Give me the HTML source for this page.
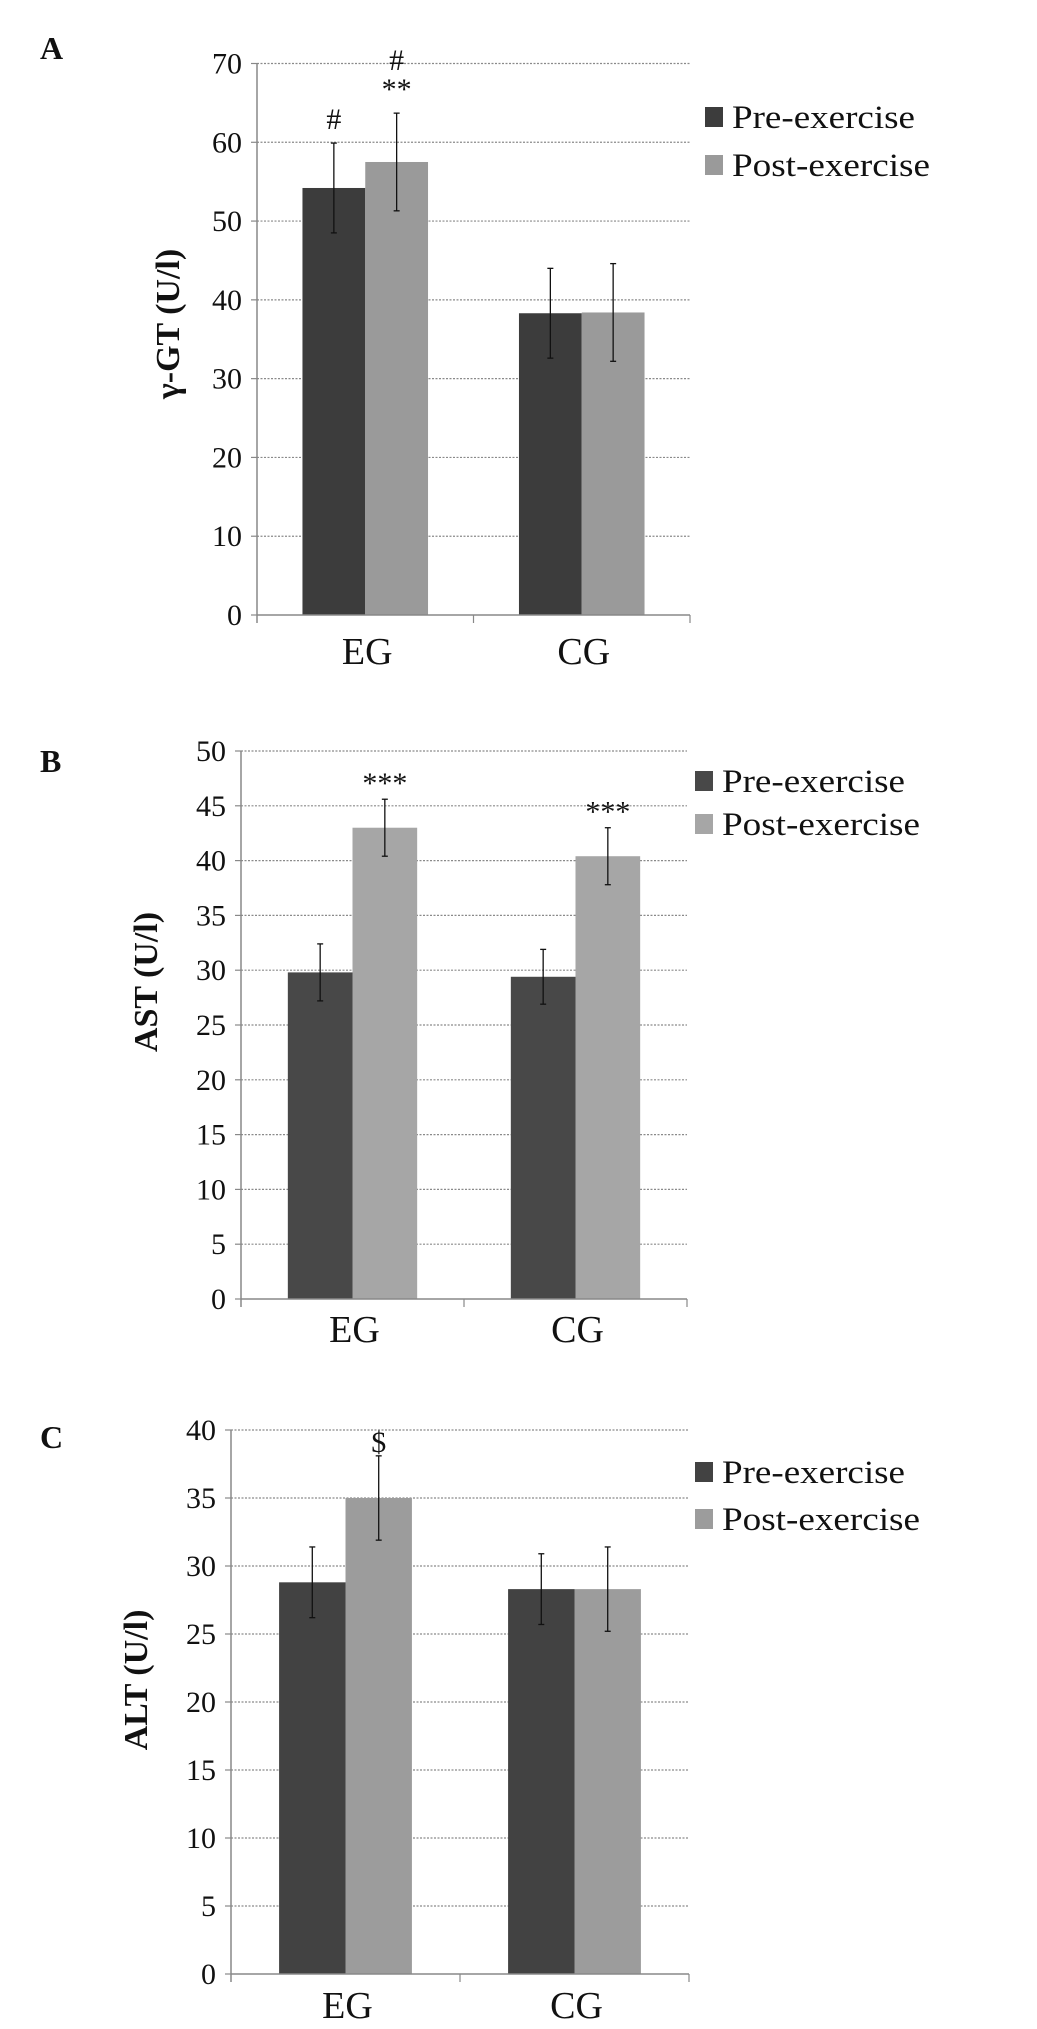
<!DOCTYPE html>
<html><head><meta charset="utf-8">
<style>
html,body{margin:0;padding:0;background:#fff;}
svg{display:block;}
text{font-family:"Liberation Serif",serif;fill:#111;}
</style></head>
<body>
<svg id="fig" width="1037" height="2029" viewBox="0 0 1037 2029" xmlns="http://www.w3.org/2000/svg"></svg>
<script>
const categories = ["EG", "CG"];
const seriesNames = ["Pre-exercise", "Post-exercise"];
// Panel A: gamma-GT
const ggtPre = [54.2, 38.3];
const ggtPost = [57.5, 38.4];
const ggtPreErr = [5.7, 5.7];
const ggtPostErr = [6.2, 6.2];
const ggtTicks = [0, 10, 20, 30, 40, 50, 60, 70];
// Panel B: AST
const astPre = [29.8, 29.4];
const astPost = [43.0, 40.4];
const astPreErr = [2.6, 2.5];
const astPostErr = [2.6, 2.6];
const astTicks = [0, 5, 10, 15, 20, 25, 30, 35, 40, 45, 50];
// Panel C: ALT
const altPre = [28.8, 28.3];
const altPost = [35.0, 28.3];
const altPreErr = [2.6, 2.6];
const altPostErr = [3.1, 3.1];
const altTicks = [0, 5, 10, 15, 20, 25, 30, 35, 40];

const NS = "http://www.w3.org/2000/svg";
const svg = document.getElementById("fig");
function mk(tag, attrs, parent) {
  const e = document.createElementNS(NS, tag);
  for (const k in attrs) e.setAttribute(k, attrs[k]);
  (parent || svg).appendChild(e);
  return e;
}

const panels = [
  {key:"a", letter:"A", title:"γ-GT (U/l)", pre:ggtPre, post:ggtPost, preErr:ggtPreErr, postErr:ggtPostErr, ticks:ggtTicks,
   ax:257, right:690, top:63.5, bottom:615, catY:664, letterY:59, titleX:167, titleY:324,
   legX:705, legY1:128, legY2:176, darkC:"#3c3c3c", lightC:"#9a9a9a",
   ann:[{t:"#", s:0, c:0, dy:-14}, {t:"**", s:1, c:0, dy:-14}, {t:"#", s:1, c:0, dy:-43}]},
  {key:"b", letter:"B", title:"AST (U/l)", pre:astPre, post:astPost, preErr:astPreErr, postErr:astPostErr, ticks:astTicks,
   ax:241, right:687, top:751, bottom:1299, catY:1342, letterY:772, titleX:145, titleY:982,
   legX:695, legY1:792, legY2:835, darkC:"#484848", lightC:"#a6a6a6",
   ann:[{t:"***", s:1, c:0, dy:-6}, {t:"***", s:1, c:1, dy:-6}]},
  {key:"c", letter:"C", title:"ALT (U/l)", pre:altPre, post:altPost, preErr:altPreErr, postErr:altPostErr, ticks:altTicks,
   ax:231, right:689, top:1430, bottom:1974, catY:2018, letterY:1448, titleX:135, titleY:1680,
   legX:695, legY1:1483, legY2:1530, darkC:"#424242", lightC:"#9c9c9c",
   ann:[{t:"$", s:1, c:0, dy:-4}]}
];

panels.forEach(p => {
  const g = mk("g", {});
  
  
  const maxV = p.ticks[p.ticks.length - 1];
  const y = v => p.bottom - (v / maxV) * (p.bottom - p.top);
  const catW = (p.right - p.ax) / categories.length;
  const barW = catW * 0.29;
  const xBar = (c, s) => p.ax + catW * c + catW * 0.21 + s * barW;

  // gridlines + tick labels
  p.ticks.forEach(t => {
    if (t > 0) {
      const gl = mk("line", {x1:p.ax, x2:p.right, y1:y(t), y2:y(t), stroke:"#8a8a8a", "stroke-width":1.2, "stroke-dasharray":"2,1.5"}, g);
      
      
    }
    const tk = mk("line", {x1:p.ax - 6, x2:p.ax, y1:y(t), y2:y(t), stroke:"#888", "stroke-width":1.2}, g);
    
    
    const tl = mk("text", {x:p.ax - 15, y:y(t) + 10, "text-anchor":"end", "font-size":30}, g);
    tl.textContent = t;
    
    
  });

  // bars
  const vals = [p.pre, p.post], errs = [p.preErr, p.postErr], cols = [p.darkC, p.lightC];
  categories.forEach((cat, c) => {
    for (let s = 0; s < 2; s++) {
      const v = vals[s][c];
      const r = mk("rect", {x:xBar(c, s), y:y(v), width:barW, height:y(0) - y(v), fill:cols[s]}, g);
      
      
    }
  });
  // error bars
  categories.forEach((cat, c) => {
    for (let s = 0; s < 2; s++) {
      const v = vals[s][c], e = errs[s][c];
      const cx = xBar(c, s) + barW / 2;
      const eg = mk("g", {stroke:"#111", "stroke-width":1.3}, g);
      
      
      mk("line", {x1:cx, x2:cx, y1:y(v + e), y2:y(v - e)}, eg);
      mk("line", {x1:cx - 3, x2:cx + 3, y1:y(v + e), y2:y(v + e)}, eg);
      mk("line", {x1:cx - 3, x2:cx + 3, y1:y(v - e), y2:y(v - e)}, eg);
    }
  });
  // annotations
  p.ann.forEach(a => {
    const v = vals[a.s][a.c] + errs[a.s][a.c];
    const at = mk("text", {x:xBar(a.c, a.s) + barW / 2, y:y(v) + a.dy, "text-anchor":"middle", "font-size":30}, g);
    at.textContent = a.t;
    
    
  });

  // axes
  const xa = mk("line", {x1:p.ax, x2:p.right, y1:p.bottom, y2:p.bottom, stroke:"#888", "stroke-width":1.5}, g);
  
  
  const ya = mk("line", {x1:p.ax, x2:p.ax, y1:p.top, y2:p.bottom + 8, stroke:"#888", "stroke-width":1.5}, g);
  
  
  for (let i = 1; i <= categories.length; i++) {
    const xt = mk("line", {x1:p.ax + catW * i, x2:p.ax + catW * i, y1:p.bottom, y2:p.bottom + 8, stroke:"#888", "stroke-width":1.2}, g);
    
    
  }
  categories.forEach((cat, c) => {
    const cl = mk("text", {x:p.ax + catW * (c + 0.5) + 2, y:p.catY, "text-anchor":"middle", "font-size":38}, g);
    cl.textContent = cat;
    
    
  });

  // titles
  const yt = mk("text", {x:0, y:0, "text-anchor":"middle", "font-size":34, "font-weight":"bold",
    transform:"translate(" + (p.titleX + 12) + "," + p.titleY + ") rotate(-90)"}, g);
  yt.textContent = p.title;
  
  
  const pl = mk("text", {x:40, y:p.letterY, "font-size":32, "font-weight":"bold"}, g);
  pl.textContent = p.letter;
  
  

  // legend
  [p.legY1, p.legY2].forEach((ly, s) => {
    const lg = mk("g", {}, g);
    
    
    mk("rect", {x:p.legX, y:ly - 21, width:18, height:20, fill:cols[s]}, lg);
    const lt = mk("text", {x:p.legX + 27, y:ly, "font-size":33, textLength: s ? 198 : 183, lengthAdjust:"spacingAndGlyphs"}, lg);
    lt.textContent = seriesNames[s];
  });
});
</script>
</body></html>
